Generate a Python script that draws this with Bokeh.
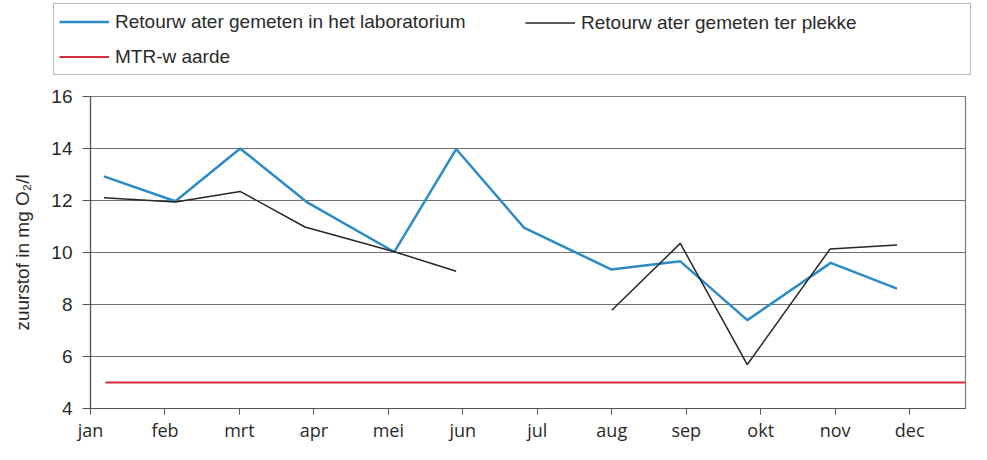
from bokeh.plotting import figure
from bokeh.layouts import column
from bokeh.models import Range1d, FixedTicker, Legend, LegendItem
from bokeh.embed import file_html
from bokeh.resources import INLINE

nan = float("nan")

months = ["jan", "feb", "mrt", "apr", "mei", "jun", "jul", "aug", "sep", "okt", "nov", "dec"]
month_ticks = list(range(12))
y_ticks = [4, 6, 8, 10, 12, 14, 16]

# measurement moments (in months counted from 1 januari) and values in mg O2/l
lab_x = [0.18, 1.14, 2.01, 2.90, 4.08, 4.91, 5.82, 6.99, 7.92, 8.82, 9.94, 10.83]
lab_y = [12.93, 11.97, 14.0, 11.95, 10.02, 13.98, 10.96, 9.35, 9.66, 7.40, 9.60, 8.61]

site_x = [0.18, 1.14, 2.01, 2.88, 4.08, 4.91, nan, 7.00, 7.92, 8.82, 9.93, 10.83]
site_y = [12.11, 11.94, 12.35, 10.98, 10.03, 9.28, nan, 7.78, 10.35, 5.69, 10.13, 10.29]

mtr_x = [0.20, 11.75]
mtr_y = [5.0, 5.0]

label_lab = "Retourw ater gemeten in het laboratorium"
label_site = "Retourw ater gemeten ter plekke"
label_mtr = "MTR-w aarde"

FONT = "Liberation Sans"
C_LAB = "#2a8bc6"
C_SITE = "#262626"
C_MTR = "#d42a3a"
W_LAB, W_SITE, W_MTR = 2.5, 1.5, 2

# ---------------- main chart ----------------
p = figure(width=971, height=366, x_range=Range1d(0, 11.75), y_range=Range1d(4, 16),
           output_backend="svg", toolbar_location=None,
           min_border_left=90, min_border_right=6, min_border_top=18, min_border_bottom=33)

p.background_fill_color = "white"
p.border_fill_color = "white"
p.outline_line_color = "#7a7a7a"
p.outline_line_width = 1.2

p.line(mtr_x, mtr_y, line_color=C_MTR, line_width=W_MTR)
p.line(lab_x, lab_y, line_color=C_LAB, line_width=W_LAB)
p.line(site_x, site_y, line_color=C_SITE, line_width=W_SITE)

p.xaxis.ticker = FixedTicker(ticks=month_ticks)
p.xaxis.major_label_overrides = {i: m for i, m in zip(month_ticks, months)}
p.xaxis.minor_tick_line_color = None
p.xaxis.major_tick_in = 0
p.xaxis.major_tick_out = 6
p.xaxis.axis_line_color = "#555555"
p.xaxis.axis_line_width = 1.2
p.xaxis.major_tick_line_color = "#555555"
p.xaxis.major_label_text_font = "Open Sans"
p.xaxis.major_label_text_font_size = "18px"
p.xaxis.major_label_text_color = "#2a2a2a"
p.xaxis.major_label_standoff = 3

p.yaxis.ticker = FixedTicker(ticks=y_ticks)
p.yaxis.minor_tick_line_color = None
p.yaxis.major_tick_in = 0
p.yaxis.major_tick_out = 8
p.yaxis.axis_line_color = "#555555"
p.yaxis.axis_line_width = 1.2
p.yaxis.major_tick_line_color = "#555555"
p.yaxis.major_label_text_font = FONT
p.yaxis.major_label_text_font_size = "19px"
p.yaxis.major_label_text_color = "#2a2a2a"
p.yaxis.major_label_standoff = 10
p.yaxis.axis_label = "zuurstof in mg O\u2082/l"
p.yaxis.axis_label_text_font = FONT
p.yaxis.axis_label_text_font_size = "19px"
p.yaxis.axis_label_text_font_style = "normal"
p.yaxis.axis_label_text_color = "#2a2a2a"
p.yaxis.axis_label_standoff = 15

p.xgrid.grid_line_color = None
p.ygrid.grid_line_color = "#6e6e6e"
p.ygrid.grid_line_width = 1.2

# ---------------- legend strip ----------------
lg = figure(width=971, height=78, x_range=Range1d(100, 101), y_range=Range1d(100, 101),
            output_backend="svg", toolbar_location=None,
            x_axis_location=None, y_axis_location=None,
            min_border=0, min_border_left=0, min_border_right=0,
            min_border_top=0, min_border_bottom=0)
if "frame_align" in lg.properties():
    lg.frame_align = False
lg.outline_line_color = None
lg.xgrid.grid_line_color = None
lg.ygrid.grid_line_color = None
lg.background_fill_color = "white"
lg.border_fill_color = "white"

# same series, drawn outside the strip's visible range: only their legend samples show
k_lab = lg.line(lab_x, lab_y, line_color=C_LAB, line_width=W_LAB)
k_site = lg.line(site_x, site_y, line_color=C_SITE, line_width=W_SITE)
k_mtr = lg.line(mtr_x, mtr_y, line_color=C_MTR, line_width=W_MTR)

common = dict(glyph_width=50, glyph_height=25, label_height=25, label_standoff=6,
              spacing=10, padding=5, margin=0,
              label_text_font=FONT, label_text_font_size="19px", label_text_color="#2a2a2a")

leg1 = Legend(items=[LegendItem(label=label_lab, renderers=[k_lab]),
                     LegendItem(label=label_mtr, renderers=[k_mtr])],
              location=(53, 3), orientation="vertical", label_width=850,
              border_line_color="#7a7a7a", border_line_width=1.2,
              background_fill_color="white", background_fill_alpha=1, **common)
leg2 = Legend(items=[LegendItem(label=label_site, renderers=[k_site])],
              location=(520, 38), orientation="vertical",
              border_line_alpha=0, background_fill_alpha=0, **common)
lg.add_layout(leg1)
lg.add_layout(leg2)

layout = column(lg, p, spacing=0)
open("out.html", "w").write(file_html(layout, INLINE))
